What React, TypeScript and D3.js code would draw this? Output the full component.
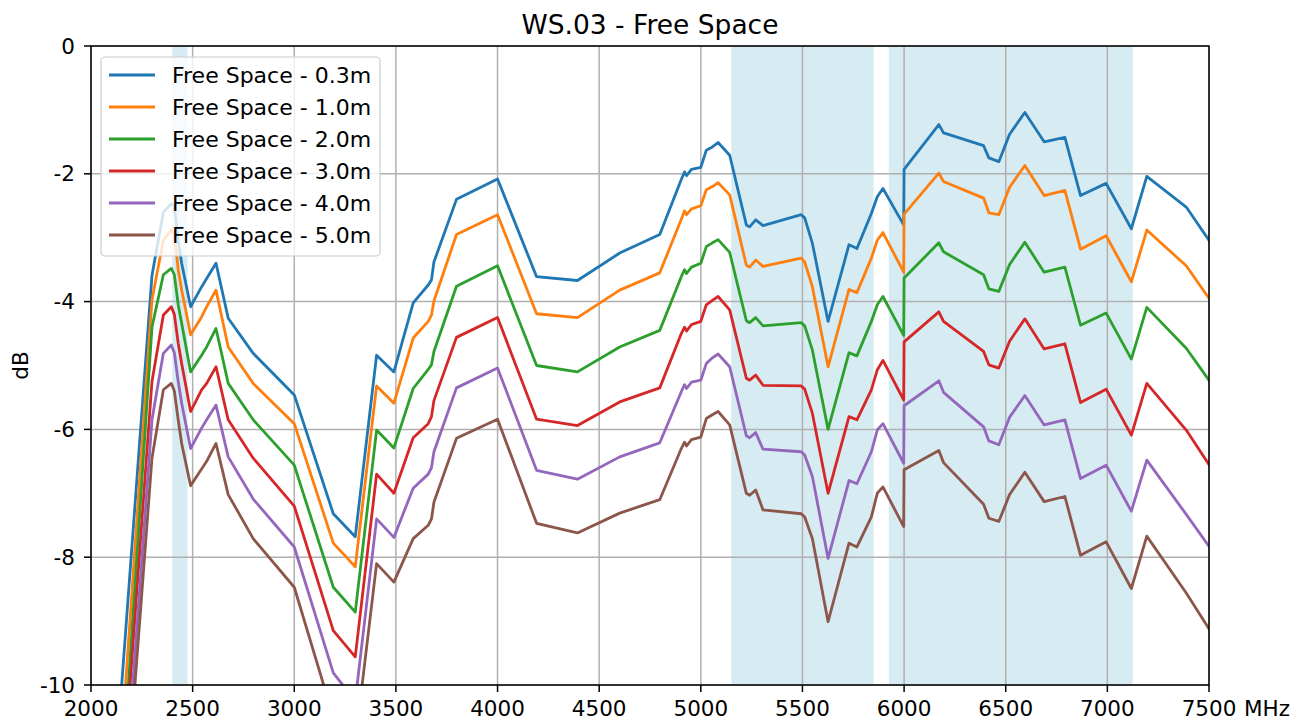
import React from 'react';
import * as d3 from 'd3';

const FREQ = [2100, 2300, 2356, 2395, 2410, 2429, 2446, 2490, 2544, 2569, 2615, 2675, 2798, 3000, 3192, 3300, 3405, 3490, 3585, 3659, 3675, 3687, 3798, 4000, 4192, 4393, 4601, 4798, 4904, 4920, 4930, 4954, 5000, 5027, 5057, 5085, 5142, 5224, 5240, 5270, 5306, 5494, 5511, 5549, 5626, 5729, 5768, 5839, 5868, 5896, 5998, 6000, 6171, 6194, 6391, 6417, 6466, 6519, 6594, 6689, 6791, 6868, 6994, 7118, 7194, 7388, 7500];

const FS_03 = [-12.19, -3.59, -2.60, -2.47, -2.50, -3.05, -3.40, -4.08, -3.77, -3.64,
  -3.40, -4.26, -4.81, -5.46, -7.32, -7.68, -4.84, -5.10, -4.02, -3.74,
  -3.66, -3.38, -2.40, -2.08, -3.61, -3.67, -3.24, -2.95, -2.09, -1.97,
  -2.03, -1.93, -1.90, -1.63, -1.58, -1.51, -1.71, -2.80, -2.83, -2.72,
  -2.81, -2.64, -2.69, -3.09, -4.31, -3.11, -3.17, -2.62, -2.36, -2.23,
  -2.80, -1.93, -1.23, -1.36, -1.56, -1.75, -1.81, -1.38, -1.04, -1.50,
  -1.43, -2.34, -2.15, -2.86, -2.04, -2.52, -3.04];

const FS_10 = [-13.25, -3.97, -3.04, -2.88, -2.95, -3.50, -3.82, -4.52, -4.24, -4.08,
  -3.82, -4.71, -5.28, -5.91, -7.78, -8.15, -5.32, -5.59, -4.57, -4.31,
  -4.21, -3.99, -2.95, -2.64, -4.19, -4.25, -3.82, -3.55, -2.71, -2.58,
  -2.64, -2.55, -2.50, -2.25, -2.20, -2.14, -2.33, -3.43, -3.46, -3.35,
  -3.45, -3.32, -3.38, -3.77, -5.02, -3.81, -3.86, -3.32, -3.04, -2.92,
  -3.54, -2.63, -1.99, -2.12, -2.38, -2.61, -2.64, -2.21, -1.87, -2.34,
  -2.26, -3.18, -2.97, -3.69, -2.88, -3.44, -3.95];

const FS_20 = [-14.06, -4.40, -3.58, -3.48, -3.58, -4.05, -4.34, -5.10, -4.84, -4.71,
  -4.42, -5.28, -5.85, -6.56, -8.47, -8.86, -6.01, -6.29, -5.36, -5.06,
  -4.99, -4.78, -3.76, -3.44, -5.00, -5.10, -4.71, -4.45, -3.61, -3.50,
  -3.56, -3.46, -3.40, -3.14, -3.08, -3.03, -3.23, -4.30, -4.33, -4.25,
  -4.38, -4.33, -4.38, -4.76, -6.00, -4.80, -4.85, -4.31, -4.05, -3.92,
  -4.53, -3.63, -3.08, -3.22, -3.58, -3.80, -3.84, -3.42, -3.07, -3.54,
  -3.46, -4.37, -4.18, -4.90, -4.09, -4.73, -5.23];

const FS_30 = [-14.05, -5.25, -4.21, -4.08, -4.20, -4.65, -4.97, -5.72, -5.38, -5.28,
  -5.02, -5.85, -6.45, -7.20, -9.15, -9.56, -6.70, -7.00, -6.13, -5.91,
  -5.80, -5.55, -4.56, -4.25, -5.84, -5.94, -5.57, -5.35, -4.50, -4.40,
  -4.46, -4.36, -4.31, -4.05, -3.98, -3.92, -4.13, -5.20, -5.23, -5.15,
  -5.31, -5.32, -5.37, -5.75, -7.00, -5.80, -5.85, -5.38, -5.07, -4.92,
  -5.54, -4.63, -4.16, -4.31, -4.78, -4.99, -5.04, -4.62, -4.27, -4.74,
  -4.66, -5.58, -5.37, -6.09, -5.28, -6.01, -6.55];

const FS_40 = [-14.59, -5.85, -4.81, -4.68, -4.80, -5.25, -5.59, -6.30, -5.98, -5.85,
  -5.62, -6.43, -7.09, -7.84, -9.81, -10.25, -7.40, -7.69, -6.92, -6.70,
  -6.60, -6.35, -5.35, -5.04, -6.64, -6.78, -6.43, -6.21, -5.41, -5.30,
  -5.36, -5.26, -5.23, -4.97, -4.88, -4.82, -5.02, -6.10, -6.13, -6.05,
  -6.31, -6.35, -6.40, -6.74, -8.02, -6.80, -6.85, -6.35, -6.01, -5.91,
  -6.53, -5.63, -5.24, -5.42, -5.96, -6.18, -6.24, -5.81, -5.47, -5.93,
  -5.85, -6.77, -6.56, -7.28, -6.48, -7.33, -7.83];

const FS_50 = [-14.90, -6.45, -5.38, -5.28, -5.40, -5.85, -6.22, -6.88, -6.62, -6.50,
  -6.22, -7.02, -7.71, -8.47, -10.50, -10.90, -8.10, -8.39, -7.71, -7.50,
  -7.40, -7.14, -6.14, -5.84, -7.47, -7.62, -7.31, -7.10, -6.30, -6.20,
  -6.26, -6.16, -6.12, -5.83, -5.77, -5.72, -5.93, -7.00, -7.03, -6.95,
  -7.26, -7.32, -7.37, -7.71, -9.01, -7.78, -7.84, -7.37, -7.00, -6.90,
  -7.52, -6.63, -6.33, -6.52, -7.17, -7.39, -7.44, -7.02, -6.67, -7.13,
  -7.05, -7.97, -7.76, -8.49, -7.67, -8.56, -9.12];

const SERIES_NAMES = [
  'Free Space - 0.3m',
  'Free Space - 1.0m',
  'Free Space - 2.0m',
  'Free Space - 3.0m',
  'Free Space - 4.0m',
  'Free Space - 5.0m',
];
const SERIES_VALUES = [FS_03, FS_10, FS_20, FS_30, FS_40, FS_50];
const COLORS = ['#1f77b4', '#ff7f0e', '#2ca02c', '#d62728', '#9467bd', '#8c564b'];

const X_TICKS = [2000, 2500, 3000, 3500, 4000, 4500, 5000, 5500, 6000, 6500, 7000, 7500];
const Y_TICKS = [0, -2, -4, -6, -8, -10];
const BANDS_START = [2400, 5150, 5925];
const BANDS_END = [2475, 5850, 7125];

const TITLE = 'WS.03 - Free Space';
const Y_LABEL = 'dB';
const X_UNIT = 'MHz';

const FONT = 'DejaVu Sans, sans-serif';

export default function App() {
  const W = 1305;
  const H = 722;
  const left = 91, right = 1209, top = 46, bottom = 685;
  const x = d3.scaleLinear().domain([2000, 7500]).range([left, right]);
  const y = d3.scaleLinear().domain([-10, 0]).range([bottom, top]);
  const line = d3
    .line<number>()
    .x((_, i) => x(FREQ[i]))
    .y((d) => y(d));
  const tickFs = 21.5;

  return (
    <svg
      width={W}
      height={H}
      style={{ position: 'absolute', left: 0, top: 0, background: '#fff' }}
      fontFamily={FONT}
    >
      <defs>
        <clipPath id="plotclip">
          <rect x={left} y={top} width={right - left} height={bottom - top} />
        </clipPath>
      </defs>
      <rect x={0} y={0} width={W} height={H} fill="#fff" />
      <g clipPath="url(#plotclip)">
        {BANDS_START.map((s, i) => (
          <rect
            key={i}
            x={x(s)}
            y={top}
            width={x(BANDS_END[i]) - x(s)}
            height={bottom - top}
            fill="#add8e6"
            fillOpacity={0.5}
          />
        ))}
      </g>
      <g stroke="#b0b0b0" strokeWidth={1.5}>
        {X_TICKS.map((t) => (
          <line key={'gx' + t} x1={x(t)} x2={x(t)} y1={top} y2={bottom} />
        ))}
        {Y_TICKS.map((t) => (
          <line key={'gy' + t} x1={left} x2={right} y1={y(t)} y2={y(t)} />
        ))}
      </g>
      <g clipPath="url(#plotclip)">
        {SERIES_VALUES.map((vals, i) => (
          <path
            key={i}
            d={line(vals) || ''}
            fill="none"
            stroke={COLORS[i]}
            strokeWidth={2.8}
            strokeLinejoin="round"
            strokeLinecap="square"
          />
        ))}
      </g>
      <rect
        x={left}
        y={top}
        width={right - left}
        height={bottom - top}
        fill="none"
        stroke="#000"
        strokeWidth={1.5}
      />
      <g>
        {X_TICKS.map((t) => (
          <g key={'xt' + t}>
            <line x1={x(t)} x2={x(t)} y1={bottom} y2={bottom + 7} stroke="#000" strokeWidth={1.5} />
            <text x={x(t)} y={716} textAnchor="middle" fontSize={tickFs} fill="#000">
              {t}
            </text>
          </g>
        ))}
        <text x={1244} y={716} fontSize={tickFs} fill="#000">
          {X_UNIT}
        </text>
      </g>
      <g>
        {Y_TICKS.map((t) => (
          <g key={'yt' + t}>
            <line x1={left - 7} x2={left} y1={y(t)} y2={y(t)} stroke="#000" strokeWidth={1.5} />
            <text x={75} y={y(t)} dy="0.35em" textAnchor="end" fontSize={tickFs} fill="#000">
              {String(t)}
            </text>
          </g>
        ))}
      </g>
      <text
        transform={`translate(28,${(top + bottom) / 2}) rotate(-90)`}
        textAnchor="middle"
        fontSize={tickFs}
        fill="#000"
      >
        {Y_LABEL}
      </text>
      <text x={(left + right) / 2} y={34} textAnchor="middle" fontSize={26.5} fill="#000">
        {TITLE}
      </text>
      <g>
        <rect
          x={101}
          y={57}
          width={279}
          height={199}
          rx={4}
          fill="#fff"
          fillOpacity={0.8}
          stroke="#cccccc"
          strokeWidth={1.2}
        />
        {SERIES_NAMES.map((name, i) => (
          <g key={'lg' + i}>
            <line
              x1={109}
              x2={155}
              y1={75 + 32 * i}
              y2={75 + 32 * i}
              stroke={COLORS[i]}
              strokeWidth={2.8}
            />
            <text x={172} y={75 + 32 * i} dy="0.35em" fontSize={22} fill="#000">
              {name}
            </text>
          </g>
        ))}
      </g>
    </svg>
  );
}
